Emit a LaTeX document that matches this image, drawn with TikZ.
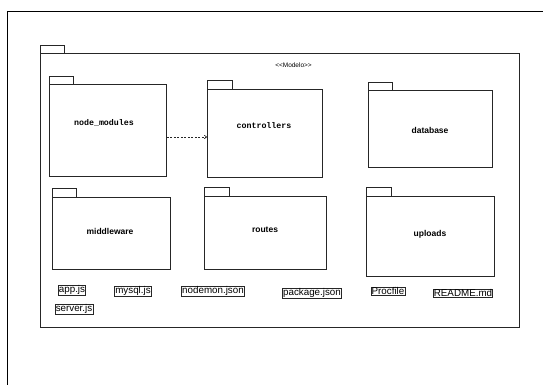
\documentclass[tikz,border=0pt]{standalone}
\usepackage{fontspec}
\setmainfont{Liberation Sans}
\setmonofont{Liberation Mono}
\usetikzlibrary{arrows.meta}
\begin{document}
\begin{tikzpicture}[x=1pt,y=-1pt,
  line/.style={draw=black!85,line width=0.8pt},
  pkgbody/.style={line,rectangle,inner sep=0pt,anchor=north west},
  pkglabel/.style={font=\fontsize{8.5}{10}\selectfont\bfseries},
  monolabel/.style={font=\fontsize{8.3}{10}\selectfont\ttfamily\bfseries},
  filebox/.style={draw=black!85,line width=0.6pt,inner sep=0.6pt,font=\fontsize{9.8}{11}\selectfont},
  dep/.style={line,dashed,dash pattern=on 2pt off 1.5pt,line width=0.6pt,-{To[length=3pt,width=4pt]}}]
\useasboundingbox (0,0) rectangle (543,385);
\fill[white] (0,0) rectangle (543,385);
% frame
\coordinate (fb) at (7,385);
\coordinate (fc) at (7,12);
\coordinate (fr) at (543,12);
\draw[line width=1pt] (fb) -- (fc) -- (fr);
% outer package
\node[pkgbody,minimum width=479pt,minimum height=274pt] (outer) at (40,53) {};
\draw[line] (outer.north west) rectangle ++(24,-8);
\node[font=\fontsize{6.5}{8}\selectfont] (stereo) at (293.5,65) {{<}{<}Modelo{>}{>}};
% packages
\node[pkgbody,minimum width=117pt,minimum height=92pt] (nm) at (49,84) {};
\draw[line] (nm.north west) rectangle ++(24,-8);
\node[monolabel] (nmlab) at (104,123) {node\_modules};

\node[pkgbody,minimum width=115pt,minimum height=88pt] (ctrl) at (207,89) {};
\draw[line] (ctrl.north west) rectangle ++(25,-9);
\node[monolabel] (ctrllab) at (264,126) {controllers};

\node[pkgbody,minimum width=124pt,minimum height=77pt] (db) at (368,90) {};
\draw[line] (db.north west) rectangle ++(24,-8);
\node[pkglabel] (dblab) at (430,130) {database};

\node[pkgbody,minimum width=118pt,minimum height=72pt] (mw) at (52,197) {};
\draw[line] (mw.north west) rectangle ++(24,-9);
\node[pkglabel] (mwlab) at (110,231) {middleware};

\node[pkgbody,minimum width=122pt,minimum height=73pt] (rt) at (204,196) {};
\draw[line] (rt.north west) rectangle ++(25,-9);
\node[pkglabel] (rtlab) at (265,230) {routes};

\node[pkgbody,minimum width=128pt,minimum height=80pt] (up) at (366,196) {};
\draw[line] (up.north west) rectangle ++(25,-9);
\node[pkglabel] (uplab) at (430,234) {uploads};

% dependency
\coordinate (ay) at (0,137);
\draw[dep] (nm.east |- ay) -- (ctrl.west |- ay);

% files
\node[filebox] (app) at (72,290) {app.js};
\node[filebox] (mysql) at (133,291) {mysql.js};
\node[filebox] (nodemon) at (213,291) {nodemon.json};
\node[filebox] (package) at (312,293) {package.json};
\node[filebox] (procfile) at (388,291) {Procfile};
\node[filebox] (readme) at (463,293) {README.md};
\node[filebox] (server) at (74,309) {server.js};
\end{tikzpicture}
\end{document}
